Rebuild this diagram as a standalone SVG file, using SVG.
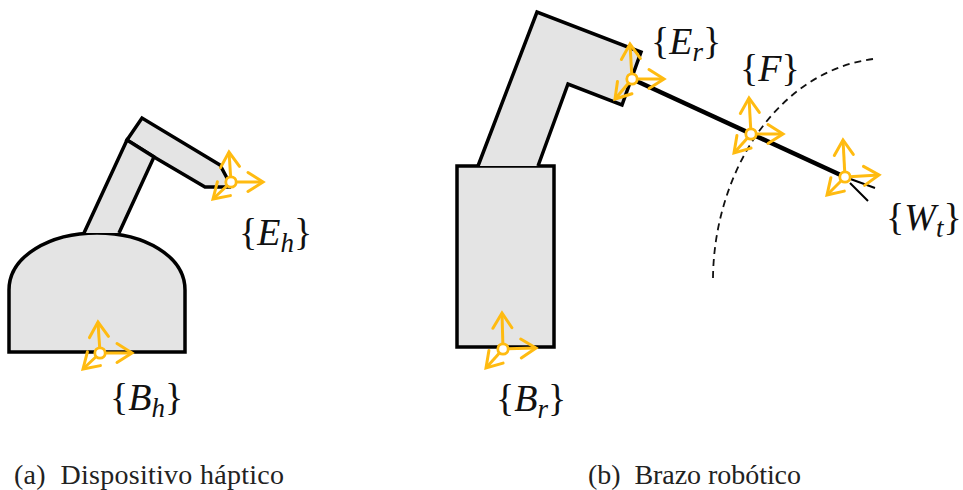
<svg xmlns="http://www.w3.org/2000/svg" width="963" height="490" viewBox="0 0 963 490">
<style>
.body{fill:#e4e4e4;stroke:#000;stroke-width:3.5;stroke-linejoin:miter}
.ax{fill:none;stroke:#ffbb11;stroke-width:3;marker-end:url(#ch)}
.o{fill:#fff;stroke:#ffbb11;stroke-width:2.8}
.m{font-family:"Liberation Serif",serif;font-style:italic;font-size:38px;fill:#111}
.b{font-style:normal}
.s{font-size:27px}
.cap{font-family:"Liberation Serif",serif;font-size:28px;fill:#222}
</style>
<defs>
<marker id="ch" markerUnits="userSpaceOnUse" markerWidth="24" markerHeight="24" viewBox="-19 -12 24 24" refX="0" refY="0" orient="auto" overflow="visible">
<path d="M-15 -9.500L0 0L-15 9.500" fill="none" stroke="#ffbb11" stroke-width="3" stroke-linecap="round"/>
</marker>
</defs>
<rect width="963" height="490" fill="#fff"/>
<g id="haptic-base"><path class="body" d="M9 352V290C9 256 50 233 97 233C144 233 185 256 185 290V352Z"/></g>
<g id="haptic-link2"><path class="body" d="M127 140L142 118L220 165L227 178L229 187H205L154 157Z"/></g>
<g id="haptic-link1"><path class="body" d="M84 233L127 140L154 157L119 233"/></g>
<g id="robot-base"><rect class="body" x="457" y="166" width="97" height="181"/></g>
<g id="robot-arm"><path class="body" d="M478 166L537 12L641 52L622 105L568 84L538 166"/></g>
<g id="connectors">
<path d="M713 278C714 175 775 72 873 59" fill="none" stroke="#111" stroke-width="1.800" stroke-dasharray="7 5"/>
<path d="M632 79L845 177" fill="none" stroke="#000" stroke-width="4.500"/>
<path d="M845 177L875 188M850 183L868 201" fill="none" stroke="#000" stroke-width="2"/>
</g>
<g id="frame-Eh"><path class="ax" d="M231 182H263"/><path class="ax" d="M231 182L229 152"/><path class="ax" d="M231 182L213 199"/><circle class="o" cx="231" cy="182" r="5.200"/></g>
<g id="frame-Bh"><path class="ax" d="M100 353H132"/><path class="ax" d="M100 353L98 322"/><path class="ax" d="M100 353L83 369"/><circle class="o" cx="100" cy="353" r="5.200"/></g>
<g id="frame-Er"><path class="ax" d="M632 79H664"/><path class="ax" d="M632 79L630 44"/><path class="ax" d="M632 79L615 99"/><circle class="o" cx="632" cy="79" r="5.200"/></g>
<g id="frame-Br"><path class="ax" d="M503 349L536 348"/><path class="ax" d="M503 349L502 313"/><path class="ax" d="M503 349L486 368"/><circle class="o" cx="503" cy="349" r="5.200"/></g>
<g id="frame-F"><path class="ax" d="M751 134H783"/><path class="ax" d="M751 134L749 98"/><path class="ax" d="M751 134L734 153"/><circle class="o" cx="751" cy="134" r="5.200"/></g>
<g id="frame-Wt"><path class="ax" d="M845 177L879 175"/><path class="ax" d="M845 177L843 140"/><path class="ax" d="M845 177L827 195"/><circle class="o" cx="845" cy="177" r="5.200"/></g>
<g id="labels">
<text class="m" x="239" y="245"><tspan class="b">{</tspan>E<tspan class="s" dy="7">h</tspan><tspan class="b" dy="-7">}</tspan></text>
<text class="m" x="110" y="410"><tspan class="b">{</tspan>B<tspan class="s" dy="7">h</tspan><tspan class="b" dy="-7">}</tspan></text>
<text class="m" x="651" y="54"><tspan class="b">{</tspan>E<tspan class="s" dy="7">r</tspan><tspan class="b" dy="-7">}</tspan></text>
<text class="m" x="740" y="81"><tspan class="b">{</tspan>F<tspan class="b">}</tspan></text>
<text class="m" x="886" y="230"><tspan class="b">{</tspan>W<tspan class="s" dy="7">t</tspan><tspan class="b" dy="-7">}</tspan></text>
<text class="m" x="496" y="411"><tspan class="b">{</tspan>B<tspan class="s" dy="7">r</tspan><tspan class="b" dy="-7">}</tspan></text>
<text class="cap" x="14" y="484" xml:space="preserve" textLength="270">(a)  Dispositivo háptico</text>
<text class="cap" x="588" y="484" xml:space="preserve" textLength="213">(b)  Brazo robótico</text>
</g>
</svg>
